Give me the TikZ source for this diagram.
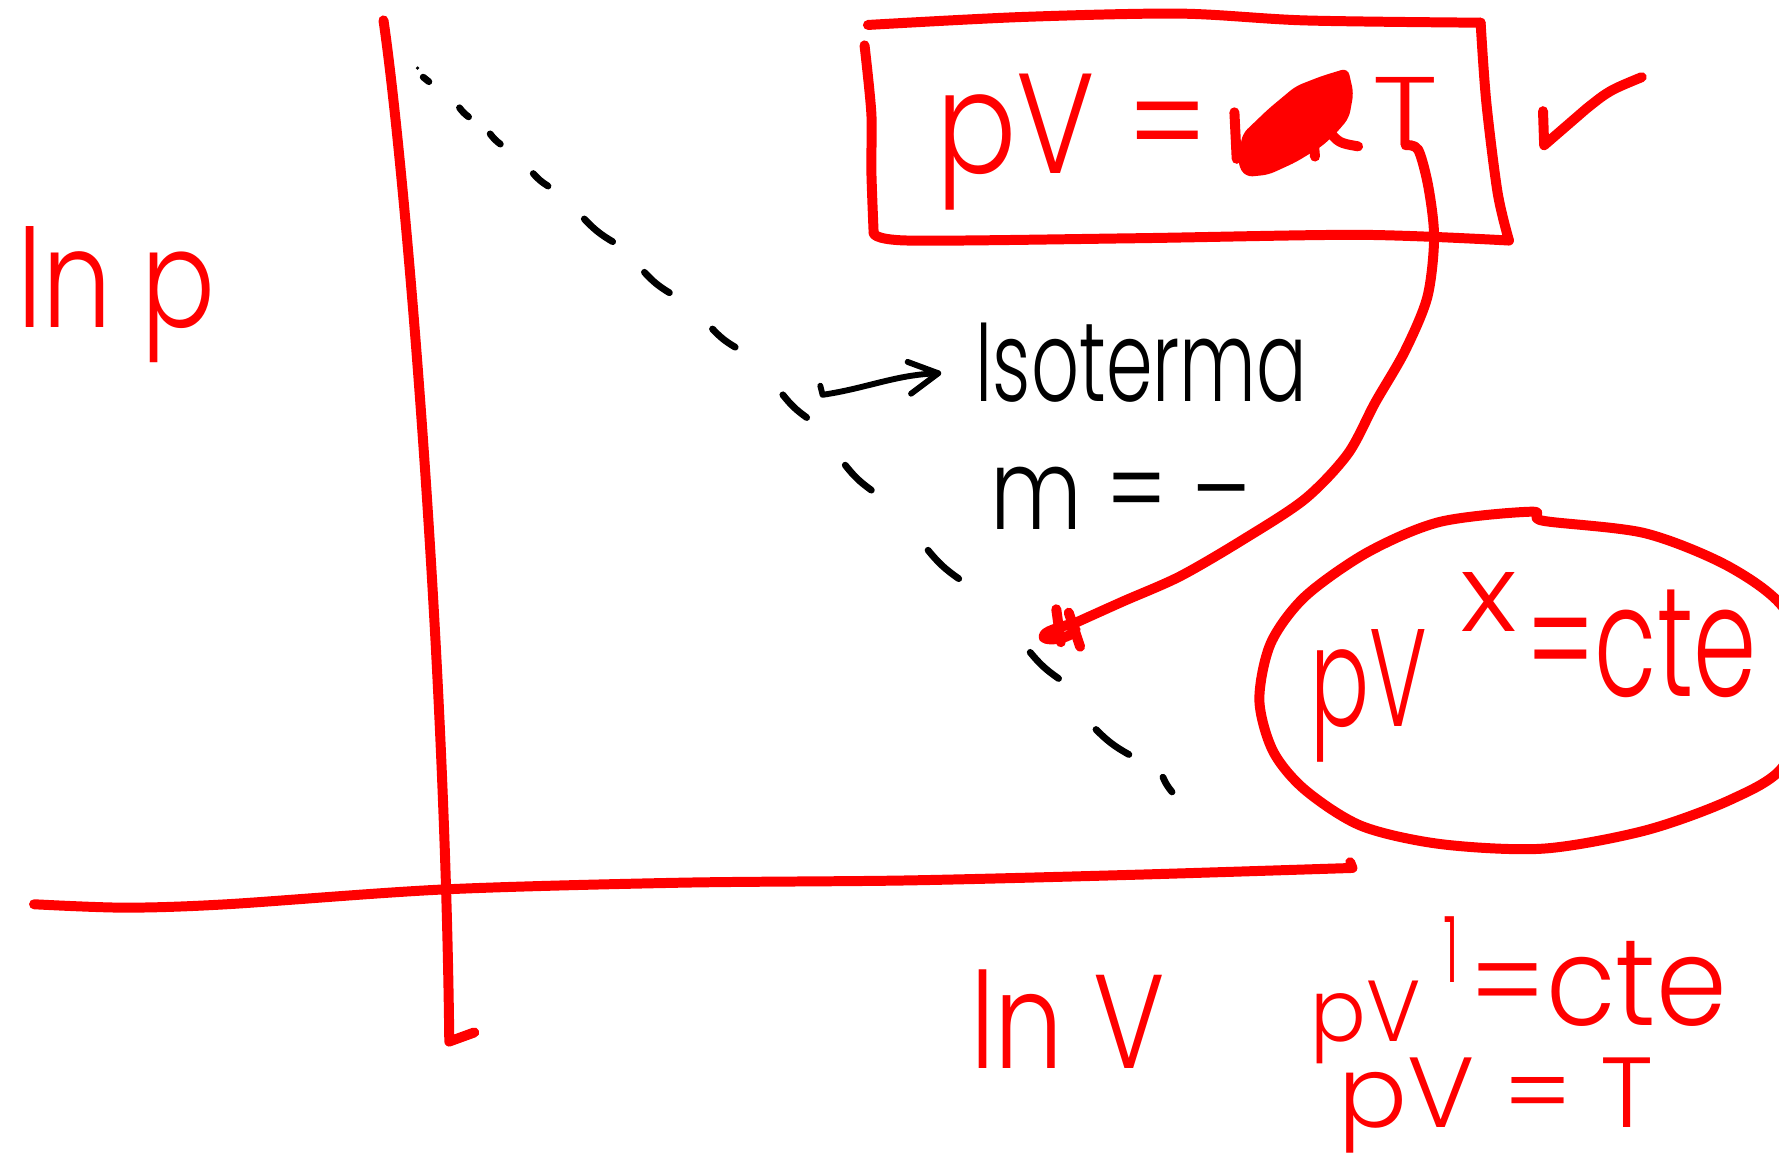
\documentclass[tikz,border=0pt]{standalone}
\usepackage{fontspec}
\usepackage{graphicx}
\setmainfont{Fira Sans}
% thin geometric pen face for the handwriting, with a plain fallback
\IfFontExistsTF{Poppins Light}
  {\newfontfamily\penfont{Poppins Light}}
  {\newfontfamily\penfont{Fira Sans}}
% squeeze a handwritten label into a given width and total height
\newcommand{\fitbox}[3]{\resizebox*{#1}{#2}{#3}}
\tikzset{
  ink/.style={draw=red, line width=4.4pt, line cap=round, line join=round},
  pencil/.style={draw=black, line width=3pt, line cap=round, line join=round},
  redtext/.style={inner sep=0pt, outer sep=0pt, text=red, font=\penfont, anchor=north west},
  blacktext/.style={inner sep=0pt, outer sep=0pt, text=black, font=\penfont, anchor=north west},
  dash seg/.style={pencil, bend right=8},
}
\begin{document}
\begin{tikzpicture}[x=0.5pt,y=-0.5pt]
\useasboundingbox (0,0) rectangle (1568,1022);
\clip (0,0) rectangle (1568,1022);
\fill[white] (0,0) rectangle (1568,1022);

% axes
\draw[ink] (338,18) .. controls (356,140) and (392,560) .. (396,918) -- (418,910);
\draw[ink] plot[smooth] coordinates {(30,797) (110,800) (200,797) (390,784) (600,778) (800,776) (1000,771) (1192,765)} -- (1190,760);

% isotherm, drawn as loose dashes
\fill (368,60) circle (1.6);
\draw[pencil] (373,68) -- (378,72);
\draw[dash seg] (405,95) to (413,103);
\draw[dash seg] (432,118) to (441,127);
\draw[dash seg] (470,153) to (483,164);
\draw[dash seg] (515,193) to (540,213);
\draw[dash seg] (568,240) to (590,258);
\draw[dash seg] (628,290) to (648,306);
\draw[dash seg] (690,348) to (711,368);
\draw[dash seg] (745,410) to (768,432);
\draw[dash seg] (818,485) to (845,510);
\draw[dash seg] (908,575) to (933,598);
\draw[dash seg] (966,643) to (995,665);
\draw[dash seg] (1025,685) to (1033,698);

% axis labels
\node[redtext] (lnp) at (15,200) {\fitbox{87.5pt}{60pt}{ln p}};
\node[redtext] (lnv) at (855,855) {\fitbox{86pt}{43.5pt}{ln V}};

% annotation of the dashed line
\node[blacktext] (iso) at (860,285) {\fitbox{146pt}{35pt}{Isoterma}};
\node[blacktext] (slope) at (873,412) {\fitbox{114.5pt}{27.5pt}{m = –}};
\coordinate (isoTail) at (723,340);
\coordinate (isoHead) at (827,329);
\draw[pencil, line width=2.6pt] (isoTail) -- (725,348) .. controls (765,342) and (790,330) .. (isoHead);
\draw[pencil, line width=2.6pt] (800,319) -- (isoHead) -- (803,347);

% boxed ideal gas law
\draw[ink] plot[smooth] coordinates {(765,22) (900,15) (1040,12) (1150,18) (1305,20)};
\draw[ink] plot[smooth] coordinates {(1305,20) (1310,90) (1320,170) (1330,212)};
\draw[ink] plot[smooth] coordinates {(1330,212) (1200,207) (1000,210) (800,212) (770,205)};
\draw[ink] plot[smooth] coordinates {(770,205) (768,150) (768,100) (762,40)};
\node[redtext] (boxlhs) at (825,65) {\fitbox{120pt}{60pt}{pV =}};
% scribbled-out factor
\fill[red, rounded corners=3pt] (1091,145) -- (1095,118) -- (1118,96) -- (1142,76) -- (1165,67)
   -- (1188,60) -- (1193,82) -- (1189,104) -- (1178,117) -- (1165,129) -- (1142,143)
   -- (1118,154) -- (1098,156) -- cycle;
\draw[ink] (1088,99) -- (1090,140);
\draw[ink] (1170,114) .. controls (1180,126) .. (1197,129);
\draw[ink] (1158,126) -- (1159,138);
\node[redtext] (boxT) at (1210,68) {\fitbox{29pt}{30pt}{T}};
\draw[ink] (1360,98) -- (1361,128) -- (1398,96) .. controls (1418,80) .. (1447,68);

% connector from T down to the dashed line
\coordinate (tip) at (950,548);
\draw[ink] plot[smooth] coordinates {(boxT.south) (1250,132) (1259,165) (1264,210) (1258,262)
   (1238,310) (1212,355) (1188,400) (1150,440) (1095,476) (1040,508) (990,530) (tip)};
\draw[ink] (tip) .. controls (935,553) and (918,556) .. (920,562) .. controls (925,566) and (945,562) .. (948,555);
\draw[ink] (931,537) -- (935,566);
\draw[ink] (942,540) -- (952,570);

% circled polytropic law
\draw[ink] plot[smooth cycle] coordinates {(1110,617) (1120,567) (1150,526) (1205,487) (1269,460)
   (1350,451) (1360,459) (1450,470) (1525,500) (1575,540) (1592,610) (1572,675) (1525,705)
   (1450,732) (1360,748) (1270,744) (1200,728) (1150,696) (1122,662)};
\node[redtext] (ellpv) at (1155,555) {\fitbox{51.5pt}{58.5pt}{pV}};
\node[redtext] (ellx) at (1287,505) {\fitbox{25pt}{26pt}{x}};
\node[redtext] (ellrhs) at (1345,520) {\fitbox{101.5pt}{47.5pt}{=cte}};

% special cases
\node[redtext] (lowpv) at (1155,865) {\fitbox{48.5pt}{36.5pt}{pV}};
\node[redtext] (lowone) at (1272,808) {\fitbox{7pt}{29pt}{1}};
\node[redtext] (lowrhs) at (1295,830) {\fitbox{113.5pt}{37.5pt}{=cte}};
\node[redtext] (lowest) at (1180,932) {\fitbox{138.5pt}{42pt}{pV = T}};
\end{tikzpicture}
\end{document}
